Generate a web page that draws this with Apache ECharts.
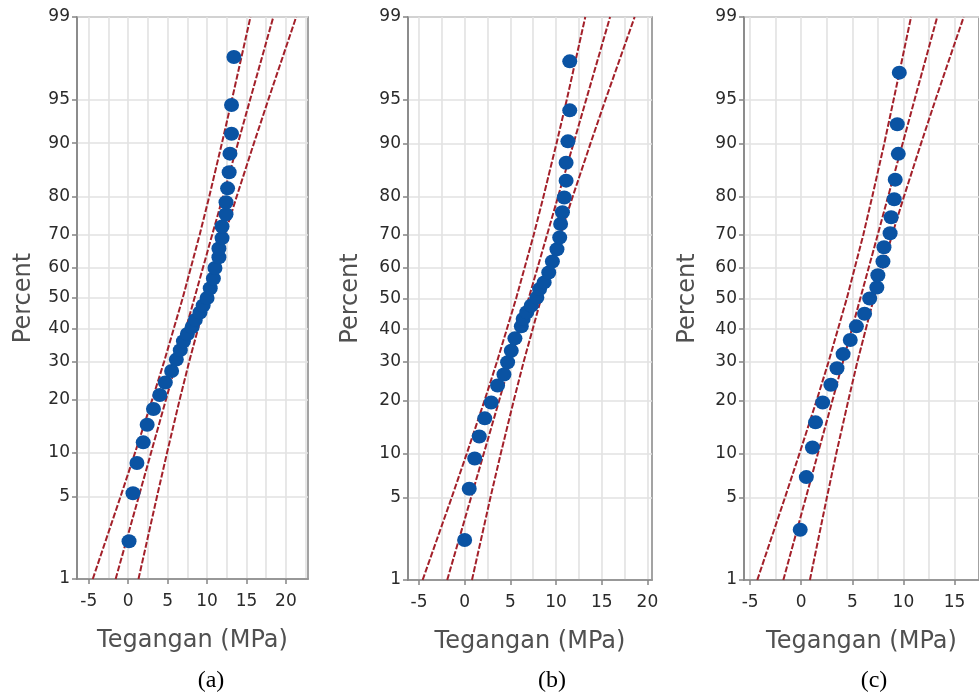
<!DOCTYPE html>
<html>
<head>
<meta charset="utf-8">
<script src="https://cdn.jsdelivr.net/npm/echarts@6/dist/echarts.min.js"></script>
<style>
html,body{margin:0;padding:0;background:#fff;}
#chart{width:979px;height:696px;}
</style>
</head>
<body>
<div id="chart"></div>
<script>
// ---------- data ----------
const percentTicks = [1, 5, 10, 20, 30, 40, 50, 60, 70, 80, 90, 95, 99];
const xTickLabels = [-5, 0, 5, 10, 15, 20];
const xGridValues = [-5, -2.5, 0, 2.5, 5, 7.5, 10, 12.5, 15, 17.5, 20, 22.5];
const captions = ['(a)', '(b)', '(c)'];

// panel (a)
const stressA = [0.1, 0.6, 1.1, 1.9, 2.4, 3.2, 4.0, 4.7, 5.5, 6.1, 6.6, 7.0, 7.5, 8.1, 8.5, 9.1, 9.5, 10.0, 10.4, 10.8, 11.0, 11.5, 11.5, 11.9, 11.9, 12.4, 12.4, 12.6, 12.8, 12.9, 13.1, 13.1, 13.4];
const percentA = [2.2, 5.3, 8.6, 11.6, 14.7, 17.9, 21.1, 24.2, 27.3, 30.5, 33.3, 36.0, 38.3, 40.5, 42.8, 45.2, 47.5, 50.0, 53.2, 56.4, 59.8, 63.2, 65.9, 69.0, 72.3, 75.6, 78.6, 81.8, 85.1, 88.4, 91.3, 94.5, 97.7];
// panel (b)
const stressB = [0.0, 0.5, 1.1, 1.6, 2.2, 2.9, 3.6, 4.3, 4.7, 5.1, 5.5, 6.2, 6.4, 6.8, 7.3, 7.9, 8.2, 8.7, 9.2, 9.6, 10.1, 10.4, 10.5, 10.7, 10.9, 11.1, 11.1, 11.3, 11.5, 11.5];
const percentB = [2.3, 5.8, 9.3, 12.7, 16.1, 19.5, 23.6, 26.5, 29.9, 33.3, 37.1, 40.9, 43.3, 45.5, 47.7, 50.3, 53.1, 55.3, 58.5, 62.0, 65.8, 69.3, 73.1, 76.2, 79.8, 83.5, 86.9, 90.3, 94.0, 97.5];
// panel (c)
const stressC = [-0.1, 0.5, 1.1, 1.4, 2.1, 2.9, 3.5, 4.1, 4.8, 5.4, 6.2, 6.7, 7.4, 7.5, 8.0, 8.1, 8.7, 8.8, 9.1, 9.2, 9.5, 9.4, 9.6];
const percentC = [2.8, 7.0, 10.9, 15.3, 19.5, 23.8, 28.2, 32.3, 36.6, 40.9, 45.0, 50.0, 53.6, 57.6, 62.0, 66.4, 70.5, 74.9, 79.4, 83.7, 88.4, 92.5, 96.9];

// fitted line and confidence bands (stress at each percent level)
const linePercents = [1, 5, 10, 20, 30, 50, 70, 80, 90, 95, 99];
const fitA   = [-1.6, 1.33, 2.89, 4.78, 6.15, 8.4, 10.65, 12.02, 13.91, 15.47, 18.4];
const lowerA = [-4.5, -0.98, 0.86, 3.04, 4.56, 6.91, 9.06, 10.28, 11.88, 13.16, 15.5];
const upperA = [1.3, 3.64, 4.92, 6.52, 7.74, 9.89, 12.24, 13.76, 15.94, 17.78, 21.3];
const fitB   = [-1.91, 0.70, 2.09, 3.78, 4.99, 7.0, 9.01, 10.22, 11.91, 13.30, 15.91];
const lowerB = [-4.6, -1.42, 0.23, 2.18, 3.53, 5.63, 7.55, 8.62, 10.05, 11.18, 13.2];
const upperB = [0.8, 2.82, 3.95, 5.38, 6.45, 8.37, 10.47, 11.82, 13.77, 15.42, 18.6];
const fitC   = [-1.75, 0.46, 1.63, 3.06, 4.08, 5.78, 7.48, 8.50, 9.93, 11.10, 13.31];
const lowerC = [-4.3, -1.59, -0.17, 1.51, 2.67, 4.46, 6.07, 6.95, 8.13, 9.05, 10.75];
const upperC = [0.85, 2.51, 3.43, 4.61, 5.49, 7.10, 8.89, 10.05, 11.73, 13.15, 15.9];

// ---------- probability scale (normal quantile) ----------
function normInv(p) {
  const a=[-3.969683028665376e+01,2.209460984245205e+02,-2.759285104469687e+02,1.383577518672690e+02,-3.066479806614716e+01,2.506628277459239e+00];
  const b=[-5.447609879822406e+01,1.615858368580409e+02,-1.556989798598866e+02,6.680131188771972e+01,-1.328068155288572e+01];
  const c=[-7.784894002430293e-03,-3.223964580411365e-01,-2.400758277161838e+00,-2.549732539343734e+00,4.374664141464968e+00,2.938163982698783e+00];
  const d=[7.784695709041462e-03,3.224671290700398e-01,2.445134137142996e+00,3.754408661907416e+00];
  const pl=0.02425, ph=1-pl; let q, r;
  if (p < pl) { q=Math.sqrt(-2*Math.log(p)); return (((((c[0]*q+c[1])*q+c[2])*q+c[3])*q+c[4])*q+c[5])/((((d[0]*q+d[1])*q+d[2])*q+d[3])*q+1); }
  if (p <= ph) { q=p-0.5; r=q*q; return (((((a[0]*r+a[1])*r+a[2])*r+a[3])*r+a[4])*r+a[5])*q/(((((b[0]*r+b[1])*r+b[2])*r+b[3])*r+b[4])*r+1); }
  q=Math.sqrt(-2*Math.log(1-p)); return -(((((c[0]*q+c[1])*q+c[2])*q+c[3])*q+c[4])*q+c[5])/((((d[0]*q+d[1])*q+d[2])*q+d[3])*q+1);
}
const zOf = pct => normInv(pct / 100);
const yTickZ = percentTicks.map(zOf);
const zMin = zOf(1), zMax = zOf(99);
function pctLabel(z) {
  let best = 0, bd = Infinity;
  yTickZ.forEach((v, i) => { const dd = Math.abs(v - z); if (dd < bd) { bd = dd; best = i; } });
  return String(percentTicks[best]);
}

// ---------- layout ----------
const panels = [
  { stress: stressA, pct: percentA, fit: fitA, lo: lowerA, hi: upperA, xMin: -6.5, xMax: 22.8, left: 77,  width: 231, height: 562, nameGap: 41, capX: 211 },
  { stress: stressB, pct: percentB, fit: fitB, lo: lowerB, hi: upperB, xMin: -6.2, xMax: 20.5, left: 408, width: 244, height: 563, nameGap: 45, capX: 552 },
  { stress: stressC, pct: percentC, fit: fitC, lo: lowerC, hi: upperC, xMin: -5.6, xMax: 17.4, left: 744, width: 250, height: 563, nameGap: 44, capX: 874 }
];

const FONT = '"DejaVu Sans", "Open Sans", sans-serif';
const AXIS_GRAY = '#858585';
const GRID_GRAY = '#e2e2e2';
const RED = '#a3202a';
const BLUE = '#0a53a3';

const grid = [], xAxis = [], yAxis = [], series = [], graphic = [];
panels.forEach((p, i) => {
  grid.push({ left: p.left, top: 17, width: p.width, height: p.height, show: true, borderColor: AXIS_GRAY, borderWidth: 1.5, backgroundColor: 'transparent' });
  // main x axis (labels + ticks)
  xAxis.push({
    type: 'value', gridIndex: i, min: p.xMin, max: p.xMax, position: 'bottom',
    name: 'Tegangan (MPa)', nameLocation: 'middle', nameGap: 50,
    nameTextStyle: { fontFamily: FONT, fontSize: 24, color: '#505050' },
    axisLine: { show: true, onZero: false, lineStyle: { color: AXIS_GRAY, width: 1.5 } },
    axisTick: { show: true, length: 5, customValues: xTickLabels, lineStyle: { color: AXIS_GRAY, width: 1.5 } },
    axisLabel: { customValues: xTickLabels, margin: 14, fontFamily: FONT, fontSize: 17, color: '#2a2a2a', formatter: v => String(v) },
    splitLine: { show: false }
  });
  // helper x axis for vertical gridlines every 2.5
  xAxis.push({
    type: 'value', gridIndex: i, min: p.xMin, max: p.xMax, position: 'top',
    axisLine: { show: false },
    axisTick: { show: false, customValues: xGridValues.filter(v => v > p.xMin && v < p.xMax) },
    axisLabel: { show: false },
    splitLine: { show: true, lineStyle: { color: GRID_GRAY, width: 1.6 } }
  });
  yAxis.push({
    type: 'value', gridIndex: i, min: zMin, max: zMax,
    name: 'Percent', nameLocation: 'middle', nameGap: p.nameGap,
    nameTextStyle: { fontFamily: FONT, fontSize: 24, color: '#505050' },
    axisLine: { show: true, onZero: false, lineStyle: { color: AXIS_GRAY, width: 1.5 } },
    axisTick: { show: true, length: 5, customValues: yTickZ, lineStyle: { color: AXIS_GRAY, width: 1.5 } },
    axisLabel: { customValues: yTickZ, margin: 7, fontFamily: FONT, fontSize: 17, color: '#2a2a2a', formatter: v => pctLabel(v) },
    splitLine: { show: true, lineStyle: { color: GRID_GRAY, width: 1.6 } }
  });
  const lineSeries = arr => ({
    type: 'line', xAxisIndex: i * 2, yAxisIndex: i, symbol: 'none', silent: true, z: 3,
    data: arr.map((x, k) => [x, zOf(linePercents[k])]),
    lineStyle: { color: RED, width: 2, type: [6, 2] }
  });
  series.push(lineSeries(p.lo), lineSeries(p.fit), lineSeries(p.hi));
  series.push({
    type: 'scatter', xAxisIndex: i * 2, yAxisIndex: i, z: 5,
    symbol: 'circle', symbolSize: [15, 14],
    itemStyle: { color: BLUE, opacity: 1 },
    data: p.stress.map((x, k) => [x, zOf(p.pct[k])])
  });
  graphic.push({
    type: 'text', x: p.capX, y: 681,
    style: { text: captions[i], font: '24px "Liberation Serif", serif', fill: '#000', textAlign: 'center', textVerticalAlign: 'middle' }
  });
});

const chart = echarts.init(document.getElementById('chart'), null, { renderer: 'canvas' });
chart.setOption({ animation: false, backgroundColor: '#fff', grid, xAxis, yAxis, series, graphic });
</script>
</body>
</html>
